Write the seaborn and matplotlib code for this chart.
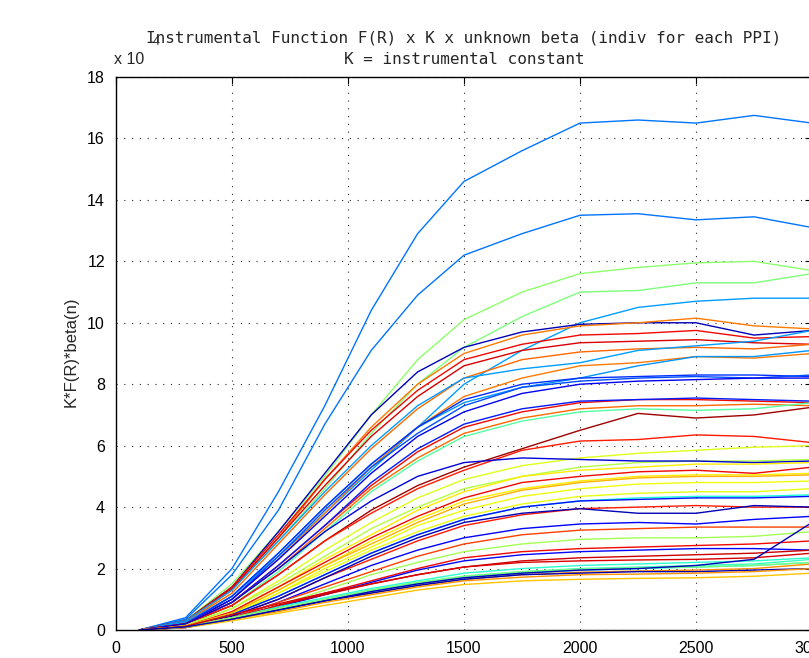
import matplotlib
matplotlib.use("Agg")
import matplotlib.pyplot as plt
import numpy as np
import pandas as pd
import seaborn as sns

# Range samples (m) shared by every profile
range_m = [100, 300, 500, 700, 900, 1100, 1300, 1500, 1750, 2000, 2250, 2500, 2750, 3000]

# K*F(R)*beta(n) per PPI, in units of 1e4
ppi_01 = [0, 0.40, 2.0, 4.5, 7.3, 10.4, 12.9, 14.6, 15.6, 16.5, 16.6, 16.5, 16.75, 16.5]
ppi_02 = [0, 0.35, 1.8, 3.9, 6.7, 9.1, 10.9, 12.2, 12.9, 13.5, 13.55, 13.35, 13.45, 13.1]
ppi_03 = [0, 0.30, 1.5, 3.2, 5.0, 7.0, 8.8, 10.1, 11.0, 11.6, 11.8, 11.95, 12.0, 11.7]
ppi_04 = [0, 0.25, 1.3, 2.9, 4.6, 6.4, 8.0, 9.2, 10.2, 11.0, 11.05, 11.3, 11.3, 11.6]
ppi_05 = [0, 0.20, 1.1, 2.4, 3.8, 5.2, 6.6, 8.0, 9.1, 10.0, 10.5, 10.7, 10.8, 10.8]
ppi_06 = [0, 0.30, 1.4, 3.2, 5.1, 7.0, 8.4, 9.2, 9.7, 9.95, 10.0, 10.0, 9.6, 9.75]
ppi_07 = [0, 0.25, 1.3, 3.0, 4.9, 6.6, 8.0, 9.0, 9.6, 9.9, 10.0, 10.15, 9.9, 9.8]
ppi_08 = [0, 0.30, 1.4, 3.1, 4.9, 6.5, 7.8, 8.8, 9.3, 9.6, 9.65, 9.75, 9.5, 9.55]
ppi_09 = [0, 0.30, 1.35, 3.0, 4.7, 6.3, 7.6, 8.6, 9.1, 9.35, 9.4, 9.45, 9.35, 9.3]
ppi_10 = [0, 0.25, 1.2, 2.8, 4.4, 5.9, 7.2, 8.2, 8.8, 9.05, 9.15, 9.2, 9.15, 9.3]
ppi_11 = [0, 0.30, 1.3, 2.9, 4.5, 6.0, 7.3, 8.2, 8.5, 8.7, 9.1, 9.25, 9.4, 9.75]
ppi_12 = [0, 0.20, 1.0, 2.3, 3.8, 5.3, 6.6, 7.6, 8.2, 8.6, 8.7, 8.9, 8.85, 9.0]
ppi_13 = [0, 0.25, 1.1, 2.5, 4.0, 5.4, 6.6, 7.4, 7.9, 8.2, 8.6, 8.9, 8.9, 9.1]
ppi_14 = [0, 0.20, 1.1, 2.5, 4.0, 5.4, 6.6, 7.5, 8.0, 8.2, 8.25, 8.3, 8.3, 8.25]
ppi_15 = [0, 0.20, 1.0, 2.4, 3.9, 5.3, 6.4, 7.3, 7.9, 8.1, 8.2, 8.25, 8.2, 8.3]
ppi_16 = [0, 0.20, 1.0, 2.3, 3.7, 5.1, 6.3, 7.1, 7.7, 8.0, 8.1, 8.15, 8.2, 8.2]
ppi_17 = [0, 0.20, 0.9, 2.1, 3.4, 4.7, 5.8, 6.6, 7.1, 7.4, 7.5, 7.5, 7.45, 7.4]
ppi_18 = [0, 0.20, 0.9, 2.1, 3.4, 4.8, 5.9, 6.7, 7.2, 7.45, 7.5, 7.55, 7.5, 7.45]
ppi_19 = [0, 0.20, 0.9, 2.0, 3.3, 4.6, 5.6, 6.4, 6.9, 7.2, 7.3, 7.3, 7.35, 7.3]
ppi_20 = [0, 0.15, 0.8, 1.9, 3.2, 4.5, 5.5, 6.3, 6.8, 7.1, 7.2, 7.15, 7.2, 7.4]
ppi_21 = [0, 0.20, 0.8, 1.8, 2.9, 3.9, 4.7, 5.3, 5.9, 6.5, 7.05, 6.9, 7.0, 7.25]
ppi_22 = [0, 0.20, 0.8, 1.8, 2.9, 3.8, 4.6, 5.2, 5.85, 6.15, 6.2, 6.35, 6.3, 6.1]
ppi_23 = [0, 0.15, 0.7, 1.6, 2.6, 3.5, 4.3, 4.9, 5.35, 5.6, 5.75, 5.85, 5.95, 6.0]
ppi_24 = [0, 0.15, 0.7, 1.5, 2.4, 3.3, 4.0, 4.6, 5.0, 5.3, 5.45, 5.5, 5.5, 5.55]
ppi_25 = [0, 0.20, 0.9, 2.0, 3.2, 4.2, 5.0, 5.45, 5.6, 5.55, 5.5, 5.5, 5.45, 5.5]
ppi_26 = [0, 0.12, 0.6, 1.4, 2.3, 3.1, 3.9, 4.5, 5.0, 5.2, 5.3, 5.4, 5.4, 5.45]
ppi_27 = [0, 0.12, 0.6, 1.4, 2.2, 3.0, 3.7, 4.3, 4.8, 5.0, 5.15, 5.2, 5.1, 5.3]
ppi_28 = [0, 0.12, 0.55, 1.3, 2.1, 2.9, 3.6, 4.2, 4.6, 4.85, 5.0, 5.05, 5.05, 5.1]
ppi_29 = [0, 0.12, 0.55, 1.3, 2.1, 2.8, 3.5, 4.1, 4.55, 4.8, 4.95, 5.0, 5.0, 5.05]
ppi_30 = [0, 0.10, 0.5, 1.2, 2.0, 2.7, 3.4, 3.9, 4.35, 4.6, 4.75, 4.8, 4.8, 4.85]
ppi_31 = [0, 0.10, 0.5, 1.2, 1.9, 2.6, 3.2, 3.7, 4.1, 4.35, 4.45, 4.5, 4.5, 4.6]
ppi_32 = [0, 0.10, 0.5, 1.1, 1.8, 2.5, 3.1, 3.6, 4.0, 4.2, 4.3, 4.35, 4.35, 4.4]
ppi_33 = [0, 0.10, 0.5, 1.1, 1.8, 2.5, 3.1, 3.6, 4.0, 4.2, 4.25, 4.3, 4.3, 4.35]
ppi_34 = [0, 0.10, 0.45, 1.0, 1.7, 2.3, 2.9, 3.4, 3.75, 3.95, 4.0, 4.05, 4.0, 4.0]
ppi_35 = [0, 0.10, 0.45, 1.0, 1.7, 2.4, 3.0, 3.5, 3.8, 3.95, 3.8, 3.8, 4.05, 4.0]
ppi_36 = [0, 0.10, 0.4, 0.9, 1.5, 2.1, 2.6, 3.0, 3.3, 3.45, 3.5, 3.45, 3.6, 3.7]
ppi_37 = [0, 0.10, 0.4, 0.9, 1.4, 1.9, 2.4, 2.8, 3.1, 3.25, 3.3, 3.35, 3.35, 3.35]
ppi_38 = [0, 0.10, 0.35, 0.8, 1.3, 1.8, 2.2, 2.55, 2.8, 2.95, 3.0, 3.0, 3.05, 3.2]
ppi_39 = [0, 0.08, 0.35, 0.8, 1.2, 1.6, 2.0, 2.35, 2.55, 2.65, 2.7, 2.75, 2.8, 2.9]
ppi_40 = [0, 0.08, 0.35, 0.75, 1.15, 1.55, 1.95, 2.25, 2.45, 2.55, 2.6, 2.65, 2.65, 2.6]
ppi_41 = [0, 0.08, 0.4, 0.8, 1.15, 1.5, 1.8, 2.05, 2.25, 2.35, 2.4, 2.45, 2.5, 2.6]
ppi_42 = [0, 0.10, 0.4, 0.75, 1.05, 1.35, 1.6, 1.85, 2.0, 2.1, 2.15, 2.2, 2.25, 2.35]
ppi_43 = [0, 0.10, 0.4, 0.7, 1.0, 1.3, 1.55, 1.75, 1.9, 2.0, 2.05, 2.1, 2.15, 2.3]
ppi_44 = [0, 0.10, 0.35, 0.65, 0.95, 1.25, 1.5, 1.7, 1.85, 1.95, 2.0, 2.05, 2.1, 2.2]
ppi_45 = [0, 0.12, 0.4, 0.7, 0.95, 1.2, 1.45, 1.65, 1.8, 1.88, 1.92, 1.95, 2.0, 2.15]
ppi_46 = [0, 0.10, 0.35, 0.65, 0.95, 1.2, 1.45, 1.65, 1.8, 1.85, 1.9, 1.9, 1.95, 2.0]
ppi_47 = [0, 0.10, 0.35, 0.6, 0.9, 1.15, 1.4, 1.6, 1.72, 1.8, 1.82, 1.85, 1.9, 2.0]
ppi_48 = [0, 0.08, 0.3, 0.55, 0.8, 1.05, 1.3, 1.48, 1.6, 1.65, 1.68, 1.7, 1.75, 1.85]
ppi_49 = [0, 0.10, 0.4, 0.7, 1.0, 1.3, 1.55, 1.75, 1.9, 1.98, 2.02, 2.05, 2.1, 2.2]
ppi_50 = [0, 0.12, 0.5, 0.85, 1.2, 1.5, 1.8, 2.05, 2.2, 2.25, 2.28, 2.3, 2.35, 2.5]
ppi_51 = [0, 0.10, 0.35, 0.65, 0.95, 1.25, 1.5, 1.7, 1.85, 1.95, 2.0, 2.1, 2.3, 3.5]

profiles = [ppi_01, ppi_02, ppi_03, ppi_04, ppi_05, ppi_06, ppi_07, ppi_08, ppi_09, ppi_10,
            ppi_11, ppi_12, ppi_13, ppi_14, ppi_15, ppi_16, ppi_17, ppi_18, ppi_19, ppi_20,
            ppi_21, ppi_22, ppi_23, ppi_24, ppi_25, ppi_26, ppi_27, ppi_28, ppi_29, ppi_30,
            ppi_31, ppi_32, ppi_33, ppi_34, ppi_35, ppi_36, ppi_37, ppi_38, ppi_39, ppi_40,
            ppi_41, ppi_42, ppi_43, ppi_44, ppi_45, ppi_46, ppi_47, ppi_48, ppi_49, ppi_50,
            ppi_51]

# Position of each PPI on the jet colour scale
jet_pos = [0.24, 0.24, 0.52, 0.50, 0.28, 0.05, 0.78, 0.90, 0.92, 0.80,
           0.28, 0.78, 0.27, 0.17, 0.20, 0.10, 0.90, 0.15, 0.80, 0.45,
           0.97, 0.88, 0.62, 0.57, 0.08, 0.66, 0.90, 0.66, 0.72, 0.64,
           0.63, 0.38, 0.14, 0.88, 0.05, 0.12, 0.84, 0.55, 0.90, 0.13,
           0.93, 0.40, 0.42, 0.37, 0.76, 0.05, 0.75, 0.70, 0.50, 0.92,
           0.05]

x_ticks = [0, 500, 1000, 1500, 2000, 2500, 3000]
y_ticks = [0, 2, 4, 6, 8, 10, 12, 14, 16, 18]

rows = []
for i, prof in enumerate(profiles):
    for r, v in zip(range_m, prof):
        rows.append({"range": r, "value": v, "ppi": i})
df = pd.DataFrame(rows)

jet = plt.get_cmap("jet")
palette = [jet(p) for p in jet_pos]

sns.set_style("white")
plt.rcParams["font.family"] = ["Liberation Sans", "DejaVu Sans"]

W, H = 809, 658
fig = plt.figure(figsize=(W / 100, H / 100), dpi=100)
ax = fig.add_axes([116 / W, 28 / H, 696 / W, 553 / H])

sns.lineplot(data=df, x="range", y="value", hue="ppi", palette=palette,
             estimator=None, sort=False, legend=False, linewidth=1.0, ax=ax)

ax.set_xlim(0, 3000)
ax.set_ylim(0, 18)
ax.set_xticks(x_ticks)
ax.set_yticks(y_ticks)
ax.set_xticklabels([str(t) for t in x_ticks])
ax.set_yticklabels([str(t) for t in y_ticks])
ax.set_xlabel("")
ax.set_ylabel("")

ax.grid(True, color="black", linestyle=(0, (1, 6)), linewidth=0.8, alpha=0.85)
ax.tick_params(axis="both", direction="in", length=5, width=0.8, labelsize=11.5,
               top=True, right=True, pad=8, colors="black")
for s in ax.spines.values():
    s.set_color("black")
    s.set_linewidth(1.0)

fig.text(71 / W, 1 - 352 / H, "K*F(R)*beta(n)", rotation=90, ha="center", va="center",
         fontsize=12)
fig.text(114 / W, 1 - 60 / H, "x 10", ha="left", va="center", fontsize=11.5)
fig.text(153 / W, 1 - 42 / H, "4", ha="left", va="center", fontsize=9)

mono = ["DejaVu Sans Mono"]
fig.text(464 / W, 1 - 38 / H,
         "Instrumental Function F(R) x K x unknown beta (indiv for each PPI)",
         ha="center", va="center", family=mono, fontsize=11.5)
fig.text(464 / W, 1 - 59 / H, "K = instrumental constant",
         ha="center", va="center", family=mono, fontsize=11.5)

fig.savefig("out.png", dpi=100)
